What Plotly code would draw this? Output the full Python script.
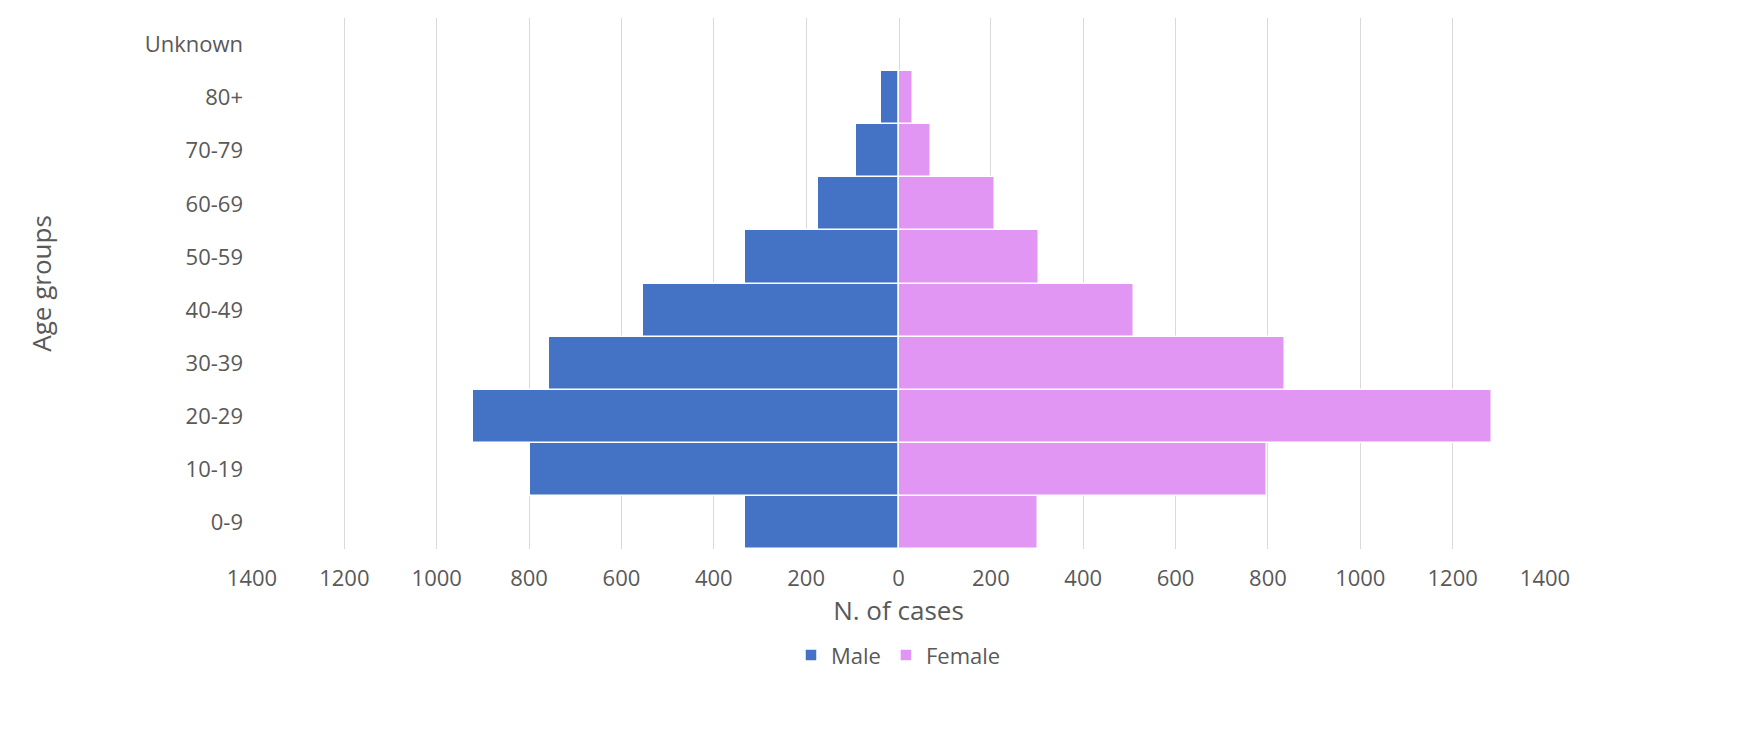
import plotly.graph_objects as go

ages = ["0-9","10-19","20-29","30-39","40-49","50-59","60-69","70-79","80+","Unknown"]
male = [333, 798, 922, 757, 554, 333, 175, 93, 37, 2]
female = [303, 798, 1285, 838, 509, 305, 208, 71, 32, 2]
ticks = [-1400,-1200,-1000,-800,-600,-400,-200,0,200,400,600,800,1000,1200,1400]

fig = go.Figure()
fig.add_bar(y=ages, x=[-v for v in male], orientation="h", name="Male",
            marker=dict(color="#4472C4", line=dict(color="white", width=1.5)))
fig.add_bar(y=ages, x=female, orientation="h", name="Female",
            marker=dict(color="#E096F2", line=dict(color="white", width=1.5)))
fig.update_layout(
    barmode="relative", bargap=0, width=1737, height=739,
    plot_bgcolor="white", paper_bgcolor="white",
    font=dict(family="Open Sans, Liberation Sans, sans-serif", size=22, color="#595959"),
    margin=dict(l=244, r=200, t=10, b=198),
    legend=dict(orientation="h", x=0.5, xanchor="center", y=-0.2, yanchor="middle",
                font=dict(size=22)),
    xaxis=dict(range=[-1400,1400], tickvals=ticks, ticktext=[str(abs(t)) for t in ticks],
               showgrid=True, gridcolor="#D9D9D9", zeroline=True, zerolinecolor="#D9D9D9",
               ticklabelstandoff=14,
               title=dict(text="N. of cases", standoff=2)),
    yaxis=dict(title=dict(text="Age groups", standoff=85), ticks="", showgrid=False,
               ticklabelstandoff=8),
)
fig.write_html("out.html")
